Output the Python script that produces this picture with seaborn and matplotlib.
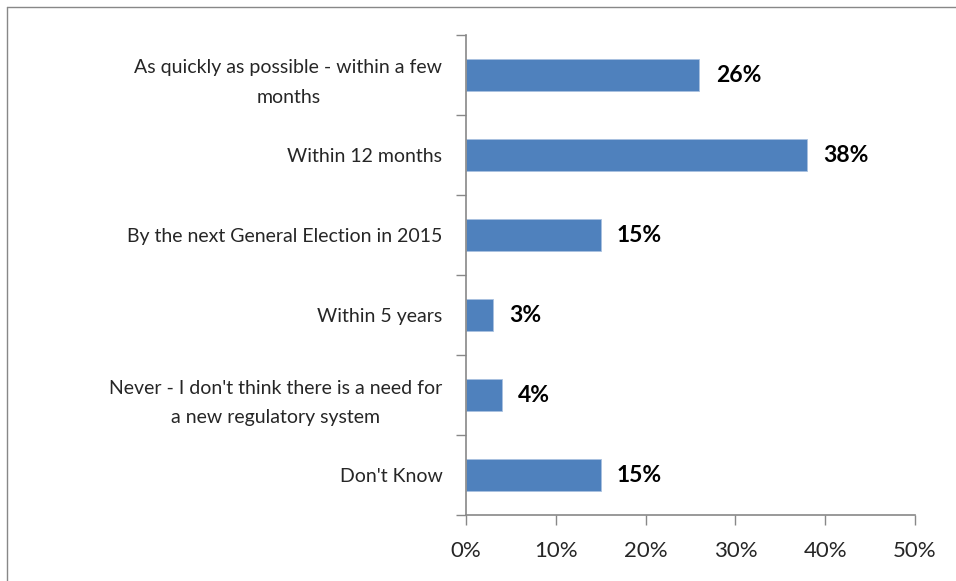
import matplotlib
matplotlib.use("Agg")
import matplotlib.pyplot as plt
import seaborn as sns
import pandas as pd
from matplotlib.lines import Line2D
from matplotlib.ticker import FixedLocator, PercentFormatter

categories = [
    "As quickly as possible - within a few\nmonths",
    "Within 12 months",
    "By the next General Election in 2015",
    "Within 5 years",
    "Never - I don't think there is a need for\na new regulatory system",
    "Don't Know",
]
values = [26, 38, 15, 3, 4, 15]
x_ticks = [0, 10, 20, 30, 40, 50]

sns.set_style("white")
plt.rcParams["font.family"] = ["Lato", "DejaVu Sans"]

df = pd.DataFrame({"cat": categories, "val": values})

fig = plt.figure(figsize=(9.56, 5.81), dpi=100)
ax = fig.add_axes([466 / 956, 1 - 515 / 581, (915 - 466) / 956, (515 - 35) / 581])

sns.barplot(data=df, x="val", y="cat", orient="h", color="#4F81BD",
            saturation=1, width=0.39, ax=ax, edgecolor="#A9C1E0", linewidth=0.6)

ax.set_xlim(0, 50)
ax.set_ylim(5.5, -0.5)
ax.set_xlabel("")
ax.set_ylabel("")

ax.xaxis.set_major_locator(FixedLocator(x_ticks))
ax.xaxis.set_major_formatter(PercentFormatter(decimals=0))
ax.tick_params(axis="x", which="major", direction="out", length=7, width=1,
               color="#888888", labelsize=16, pad=12, bottom=True)

ax.yaxis.set_minor_locator(FixedLocator([i - 0.5 for i in range(7)]))
ax.tick_params(axis="y", which="major", length=0, labelsize=14, pad=17)
ax.tick_params(axis="y", which="minor", direction="out", length=7, width=1,
               color="#888888", left=True)
for lab in ax.get_yticklabels():
    lab.set_horizontalalignment("right")
    lab.set_multialignment("center")
    lab.set_linespacing(1.9)

for s in ["top", "right"]:
    ax.spines[s].set_visible(False)
for s in ["left", "bottom"]:
    ax.spines[s].set_color("#888888")
    ax.spines[s].set_linewidth(1.2)

for i, v in enumerate(values):
    ax.text(v + 1.8, i, f"{v}%", va="center", ha="left",
            fontsize=16.5, fontweight="bold", color="black")

# partial outer border (left and top)
fig.add_artist(Line2D([6.5 / 956, 6.5 / 956], [0, 1 - 6.5 / 581],
                      transform=fig.transFigure, color="#888888", lw=1))
fig.add_artist(Line2D([6.5 / 956, 1], [1 - 6.5 / 581, 1 - 6.5 / 581],
                      transform=fig.transFigure, color="#888888", lw=1))

fig.savefig("out.png", dpi=100)
